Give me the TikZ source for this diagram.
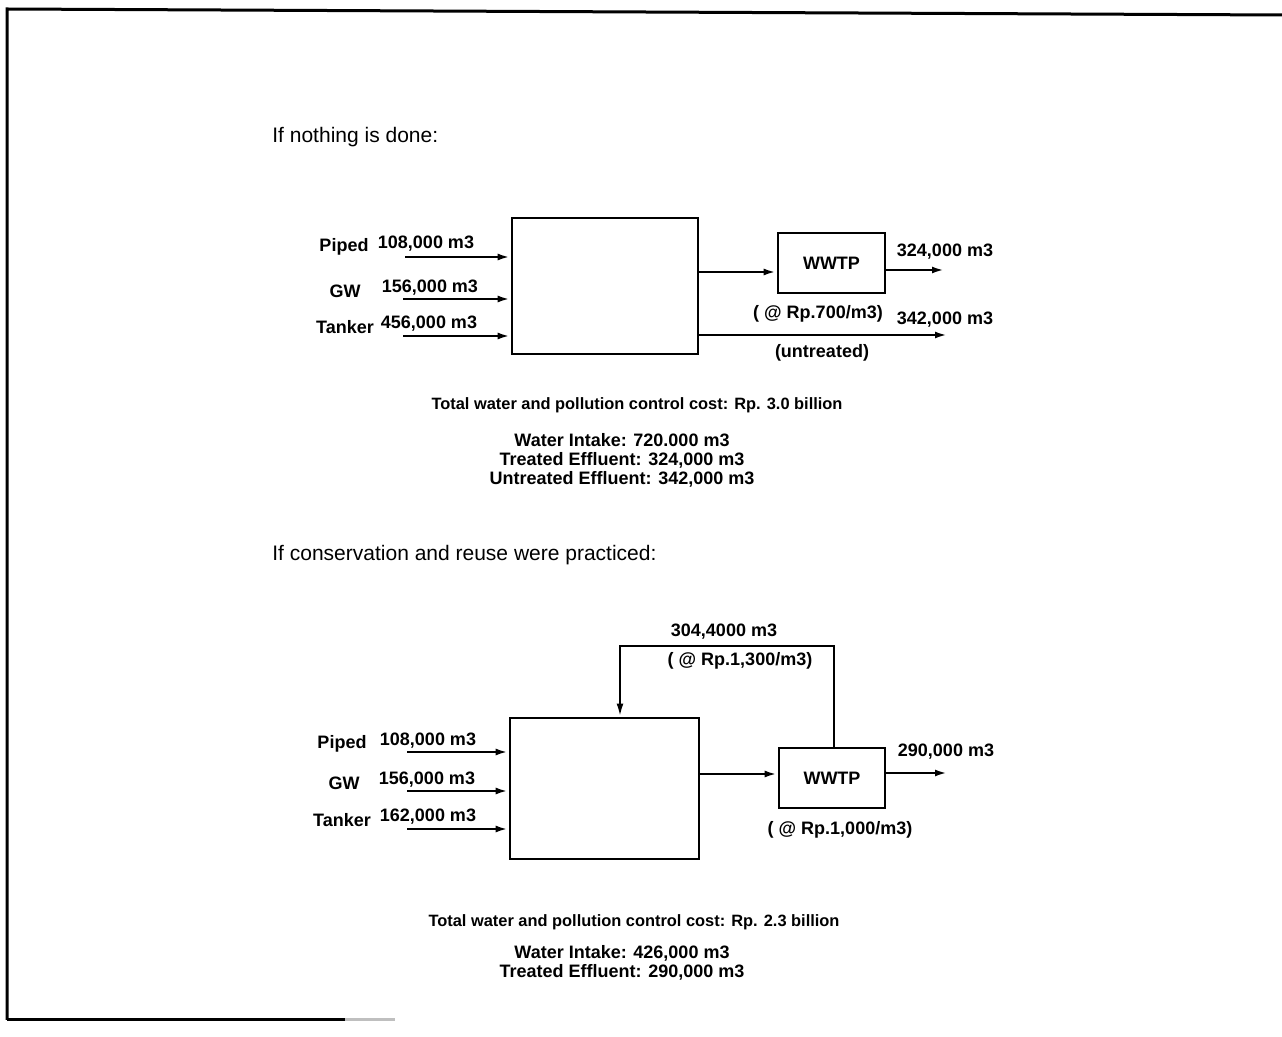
\documentclass[tikz,border=0pt]{standalone}
\usepackage{fontspec}
\setmainfont{Liberation Sans}
\usetikzlibrary{arrows.meta}
\begin{document}
\begin{tikzpicture}[x=0.5pt,y=-0.5pt,
  lbl/.style={font=\bfseries\fontsize{9}{10.5}\selectfont, inner sep=0pt},
  sumtxt/.style={font=\bfseries\fontsize{9}{9.5}\selectfont, align=center, inner sep=0pt},
  totaltxt/.style={font=\bfseries\fontsize{8.2}{10}\selectfont, inner sep=0pt},
  heading/.style={font=\fontsize{10.5}{12}\selectfont, anchor=west, inner sep=0pt},
  plant/.style={draw, line width=1.3pt, inner sep=0pt},
  flow/.style={line width=1.3pt, -{Latex[length=6.5pt,width=3.4pt]}},
  loopflow/.style={line width=1.1pt, -{Latex[length=6.5pt,width=3.4pt]}},
  frame/.style={line width=1.5pt}
]
\useasboundingbox (0,0) rectangle (1282,1037);
% frame
\draw[frame] (7,1020) -- (7,9) -- (1282,15);
\draw[frame] (7,1020) -- (345,1020);
\draw[frame,gray!50] (345,1020) -- (395,1020);

% ---------- top scenario ----------
\node[heading] (h1) at (272,137) {If nothing is done:};
\node[plant, minimum width=93pt, minimum height=68pt] (user1) at (605,286) {};
\node[plant, lbl, minimum width=53.5pt, minimum height=30pt] (wwtp1) at (831.5,263) {WWTP};

\coordinate (in1a) at (405,257);
\coordinate (in1b) at (403,299);
\coordinate (in1c) at (403,336);
\draw[flow] (in1a) -- (in1a -| user1.west);
\draw[flow] (in1b) -- (in1b -| user1.west);
\draw[flow] (in1c) -- (in1c -| user1.west);
\node[lbl] (p1) at (344,247) {Piped};
\node[lbl] (q1) at (426,244) {108,000 m3};
\node[lbl] (g1) at (345,291) {GW};
\node[lbl] (q2) at (430,288) {156,000 m3};
\node[lbl] (t1) at (345,327) {Tanker};
\node[lbl] (q3) at (429,324) {456,000 m3};

\coordinate (w1in) at ([yshift=-4.5pt]wwtp1.west);
\draw[flow] (w1in -| user1.east) -- (w1in);
\coordinate (o1) at (945,270);
\draw[flow] (wwtp1.east |- o1) -- (o1);
\coordinate (u1) at (948,335);
\draw[flow] (u1 -| user1.east) -- (u1);
\node[lbl] (o1l) at (945,252) {324,000 m3};
\node[lbl] (c1) at (818,314) {( @ Rp.700/m3)};
\node[lbl] (u1l) at (945,320) {342,000 m3};
\node[lbl] (u1n) at (822,353) {(untreated)};

\node[totaltxt] (tot1) at (637,405) {Total water and pollution control cost: Rp. 3.0 billion};
\node[sumtxt] (sum1) at (622,460) {Water Intake: 720.000 m3\\Treated Effluent: 324,000 m3\\Untreated Effluent: 342,000 m3};

% ---------- bottom scenario ----------
\node[heading] (h2) at (272,555) {If conservation and reuse were practiced:};
\node[plant, minimum width=94.5pt, minimum height=70.5pt] (user2) at (604.5,788.5) {};
\node[plant, lbl, minimum width=53pt, minimum height=30pt] (wwtp2) at (832,778) {WWTP};

\coordinate (in2a) at (407,752);
\coordinate (in2b) at (407,791);
\coordinate (in2c) at (407,829);
\draw[flow] (in2a) -- (in2a -| user2.west);
\draw[flow] (in2b) -- (in2b -| user2.west);
\draw[flow] (in2c) -- (in2c -| user2.west);
\node[lbl] (p2) at (342,744) {Piped};
\node[lbl] (r1) at (428,741) {108,000 m3};
\node[lbl] (g2) at (344,783) {GW};
\node[lbl] (r2) at (427,780) {156,000 m3};
\node[lbl] (t2) at (342,820) {Tanker};
\node[lbl] (r3) at (428,817) {162,000 m3};

\coordinate (w2in) at ([yshift=2pt]wwtp2.west);
\draw[flow] (w2in -| user2.east) -- (w2in);
\coordinate (o2) at (948,773);
\draw[flow] (wwtp2.east |- o2) -- (o2);
\coordinate (fb1) at (834,646);
\coordinate (fb2) at (620,646);
\draw[loopflow] (wwtp2.north -| fb1) -- (fb1) -- (fb2) -- (fb2 |- user2.north);
\node[lbl] (fbl) at (724,632) {304,4000 m3};
\node[lbl] (c2) at (740,661) {( @ Rp.1,300/m3)};
\node[lbl] (o2l) at (946,752) {290,000 m3};
\node[lbl] (c3) at (840,830) {( @ Rp.1,000/m3)};

\node[totaltxt] (tot2) at (634,922) {Total water and pollution control cost: Rp. 2.3 billion};
\node[sumtxt] (sum2) at (622,963) {Water Intake: 426,000 m3\\Treated Effluent: 290,000 m3};
\end{tikzpicture}
\end{document}
